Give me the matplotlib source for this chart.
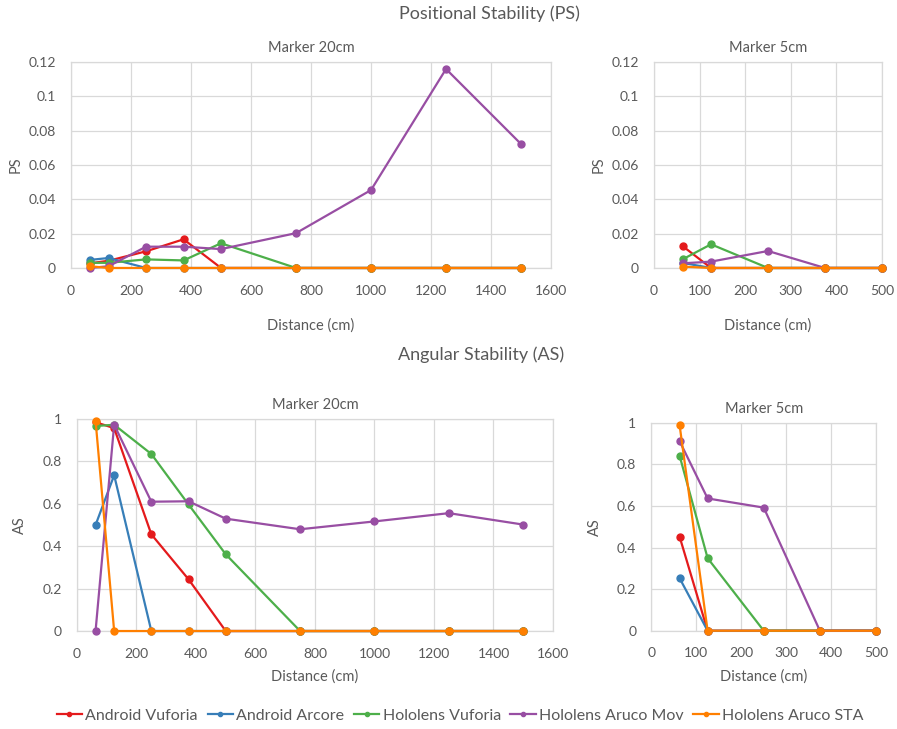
import numpy as np
import matplotlib
matplotlib.use("Agg")
import matplotlib.pyplot as plt

plt.rcParams['font.family'] = ['Lato', 'DejaVu Sans']

# distances (cm)
dist_20 = [62.5, 125, 250, 375, 500, 750, 1000, 1250, 1500]
dist_5 = [62.5, 125, 250, 375, 500]

series = ['Android Vuforia', 'Android Arcore', 'Hololens Vuforia',
          'Hololens Aruco Mov', 'Hololens Aruco STA']
colors = ['#E41A1C', '#377EB8', '#4DAF4A', '#984EA3', '#FF7F00']

# Positional stability, marker 20cm
ps_20_android_vuforia = [0.0027, 0.0042, 0.0097, 0.0167, 0, 0, 0, 0, 0]
ps_20_android_arcore = [0.0047, 0.0058, 0, 0, 0, 0, 0, 0, 0]
ps_20_hololens_vuforia = [0.003, 0.003, 0.005, 0.0044, 0.0144, 0, 0, 0, 0]
ps_20_hololens_aruco_mov = [0, 0.001, 0.0124, 0.0124, 0.011, 0.0203, 0.0454, 0.1159, 0.0722]
ps_20_hololens_aruco_sta = [0.001, 0, 0, 0, 0, 0, 0, 0, 0]

# Positional stability, marker 5cm
ps_5_android_vuforia = [0.0128, 0, 0, 0, 0]
ps_5_android_arcore = [0.003, 0, 0, 0, 0]
ps_5_hololens_vuforia = [0.005, 0.0138, 0, 0, 0]
ps_5_hololens_aruco_mov = [0.0027, 0.0037, 0.0099, 0, 0]
ps_5_hololens_aruco_sta = [0.0008, 0, 0, 0, 0]

# Angular stability, marker 20cm
as_20_android_vuforia = [0.985, 0.957, 0.456, 0.244, 0, 0, 0, 0, 0]
as_20_android_arcore = [0.5, 0.735, 0, 0, 0, 0, 0, 0, 0]
as_20_hololens_vuforia = [0.967, 0.973, 0.835, 0.597, 0.362, 0, 0, 0, 0]
as_20_hololens_aruco_mov = [0, 0.973, 0.61, 0.612, 0.53, 0.48, 0.517, 0.556, 0.502]
as_20_hololens_aruco_sta = [0.993, 0, 0, 0, 0, 0, 0, 0, 0]

# Angular stability, marker 5cm
as_5_android_vuforia = [0.453, 0, 0, 0, 0]
as_5_android_arcore = [0.253, 0, 0, 0, 0]
as_5_hololens_vuforia = [0.842, 0.349, 0, 0, 0]
as_5_hololens_aruco_mov = [0.912, 0.636, 0.592, 0, 0]
as_5_hololens_aruco_sta = [0.99, 0, 0, 0, 0]

txt = '#595959'
grid = '#d9d9d9'

fig = plt.figure(figsize=(8.97, 7.29), dpi=100)

ax1 = fig.add_axes([0.0792, 0.6324, 0.5351, 0.2826])
ax2 = fig.add_axes([0.7291, 0.6324, 0.2542, 0.2826])
ax3 = fig.add_axes([0.0858, 0.1344, 0.5307, 0.2908])
ax4 = fig.add_axes([0.7263, 0.1348, 0.2503, 0.2853])


def draw(ax, x, data, xmax, xstep, ymax, ystep, ylabel, fmt, xlabpad, ylabpad):
    for vals, c, name in zip(data, colors, series):
        ax.plot(x, vals, color=c, lw=1.6, marker='o', ms=5, label=name,
                clip_on=False, zorder=3)
    ax.set_xlim(0, xmax)
    ax.set_ylim(0, ymax)
    ax.set_xticks(np.arange(0, xmax + 1, xstep))
    yt = np.arange(0, ymax + ystep / 2, ystep)
    ax.set_yticks(yt)
    ax.set_yticklabels([fmt(v) for v in yt])
    ax.grid(True, color=grid, lw=0.9)
    ax.set_axisbelow(True)
    for s in ax.spines.values():
        s.set_color(grid)
        s.set_linewidth(0.9)
    ax.tick_params(length=0, colors=txt, labelsize=10)
    ax.tick_params(axis='x', pad=12)
    ax.tick_params(axis='y', pad=11)
    ax.set_xlabel('Distance (cm)', color=txt, fontsize=10.5, labelpad=xlabpad)
    ax.set_ylabel(ylabel, color=txt, fontsize=10.5, labelpad=ylabpad)


def fmt_ps(v):
    if abs(v) < 1e-9:
        return '0'
    return ('%.2f' % v).rstrip('0')


def fmt_as(v):
    if abs(v) < 1e-9:
        return '0'
    if abs(v - 1) < 1e-9:
        return '1'
    return ('%.1f' % v)


draw(ax1, dist_20, [ps_20_android_vuforia, ps_20_android_arcore, ps_20_hololens_vuforia,
                    ps_20_hololens_aruco_mov, ps_20_hololens_aruco_sta],
     1600, 200, 0.12, 0.02, 'PS', fmt_ps, 16, 4)
draw(ax2, dist_5, [ps_5_android_vuforia, ps_5_android_arcore, ps_5_hololens_vuforia,
                   ps_5_hololens_aruco_mov, ps_5_hololens_aruco_sta],
     500, 100, 0.12, 0.02, 'PS', fmt_ps, 16, 4)
draw(ax3, dist_20, [as_20_android_vuforia, as_20_android_arcore, as_20_hololens_vuforia,
                    as_20_hololens_aruco_mov, as_20_hololens_aruco_sta],
     1600, 200, 1.0, 0.2, 'AS', fmt_as, 7, 11)
draw(ax4, dist_5, [as_5_android_vuforia, as_5_android_arcore, as_5_hololens_vuforia,
                   as_5_hololens_aruco_mov, as_5_hololens_aruco_sta],
     500, 100, 1.0, 0.2, 'AS', fmt_as, 7, 11)

for ax, t in [(ax1, 'Marker 20cm'), (ax2, 'Marker 5cm'),
              (ax3, 'Marker 20cm'), (ax4, 'Marker 5cm')]:
    ax.set_title(t, color=txt, fontsize=10.5, pad=7)

fig.text(0.546, 0.981, 'Positional Stability (PS)', ha='center', va='center',
         color=txt, fontsize=13)
fig.text(0.536, 0.514, 'Angular Stability (AS)', ha='center', va='center',
         color=txt, fontsize=13)

handles, labels = ax1.get_legend_handles_labels()
leg = fig.legend(handles, labels, loc='center', bbox_to_anchor=(0.513, 0.018),
                 ncol=5, frameon=False, fontsize=11.5, handlelength=1.6,
                 handletextpad=0.2, columnspacing=0.6, markerscale=0.6)
for t in leg.get_texts():
    t.set_color(txt)

fig.savefig('out.png', dpi=100)
